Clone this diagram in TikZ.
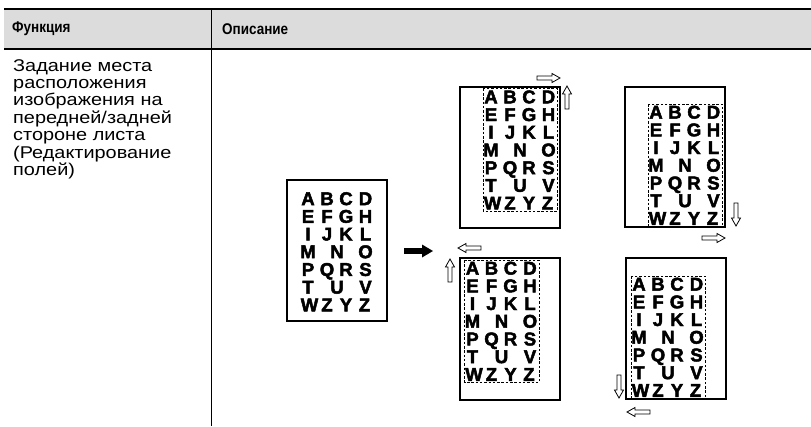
\documentclass[tikz,border=0pt]{standalone}
\usepackage{fontspec}
\setmainfont{Liberation Sans}
\newfontfamily\heavy[BoldFeatures={FakeBold=2.5}]{Liberation Sans}
\newfontfamily\hdrfont[FakeStretch=0.87]{Liberation Sans}
\newfontfamily\bodyfont[FakeStretch=1.17]{Liberation Sans}
\definecolor{hdr}{RGB}{220,220,220}
\begin{document}
\begin{tikzpicture}[x=1pt,y=-1pt,
  page/.style={draw=black,line width=1.1pt,fill=white},
  dbox/.style={draw=black,line width=0.6pt,dash pattern=on 2.5pt off 1.8pt},
  ltr/.style={font=\heavy\bfseries\fontsize{18.5}{18.5}\selectfont,inner sep=0pt,anchor=base},
  hol/.style={draw=black,line width=0.8pt,fill=white,line join=miter},
  hdrtext/.style={anchor=west,inner sep=0pt,font=\hdrfont\bfseries\fontsize{15.5}{15.5}\selectfont},
  letters/.pic={
    \foreach \t/\dx/\r [count=\k] in {A/0/0,B/19/0,C/38/0,D/57.5/0,
        E/0/1,F/19/1,G/38/1,H/57.5/1,
        I/0/2,J/19/2,K/38/2,L/57.5/2,
        M/0/3,N/29/3,O/57.5/3,
        P/0/4,Q/19/4,R/38/4,S/57.5/4,
        T/0/5,U/29/5,V/57.5/5,
        W/1.5/6,Z/19/6,Y/38/6,Z/56.5/6}
      \node[ltr] (-l\k) at (\dx,\r*17.7+6.6) {\t};
  },
  harrow/.pic={\path[hol] (0,-2) -- (15,-2) -- (15,-4.5) -- (23,0) -- (15,4.5) -- (15,2) -- (0,2) -- cycle;}
]
\useasboundingbox (0,0) rectangle (811,426);
% header
\fill[hdr] (4,9) rectangle (811,48);
\draw[line width=1.2pt] (4,9) -- (811,9);
\draw[line width=2.5pt] (4,49) -- (811,49);
\draw[line width=0.9pt] (211,9) -- (211,426);
\node[hdrtext] (h1) at (12,29) {Функция};
\node[hdrtext] (h2) at (222,29) {Описание};
% left text
\node[anchor=north west,inner sep=0pt,align=left,font=\bodyfont\fontsize{17}{17.4}\selectfont] (desc) at (13,59)
  {Задание места\\расположения\\изображения на\\передней/задней\\стороне листа\\(Редактирование\\полей)};
% central page
\draw[page] (287,180) rectangle (387,321);
\pic (c) at (308,198.5) {letters};
% black arrow
\fill (404,248.2) -- (422,248.2) -- (422,244.5) -- (433,251) -- (422,257.5) -- (422,253.8) -- (404,253.8) -- cycle;
% top-left
\draw[page] (460,87) rectangle (560,228);
\pic (tl) at (491,96.7) {letters};
\draw[dbox] (483,88.7) rectangle (557.5,210.9);
\pic at (537,78) {harrow};
\pic[rotate=90] at (567,109) {harrow};
% top-right
\draw[page] (625,87) rectangle (725,227);
\pic (tr) at (656,112) {letters};
\draw[dbox] (648,104) rectangle (722.5,226.2);
\pic[rotate=-90] at (736,203) {harrow};
\pic at (702,238) {harrow};
% bottom-left
\draw[page] (460,258) rectangle (560,400);
\pic (bl) at (472.5,268) {letters};
\draw[dbox] (464.5,260) rectangle (539,382.2);
\pic[rotate=180] at (481,248) {harrow};
\pic[rotate=90] at (450,282) {harrow};
% bottom-right
\draw[page] (626,258) rectangle (726,399);
\pic (br) at (639,284) {letters};
\draw[dbox] (631,276) rectangle (705.5,398.2);
\pic[rotate=-90] at (619,375) {harrow};
\pic[rotate=180] at (650,412) {harrow};
\end{tikzpicture}
\end{document}
